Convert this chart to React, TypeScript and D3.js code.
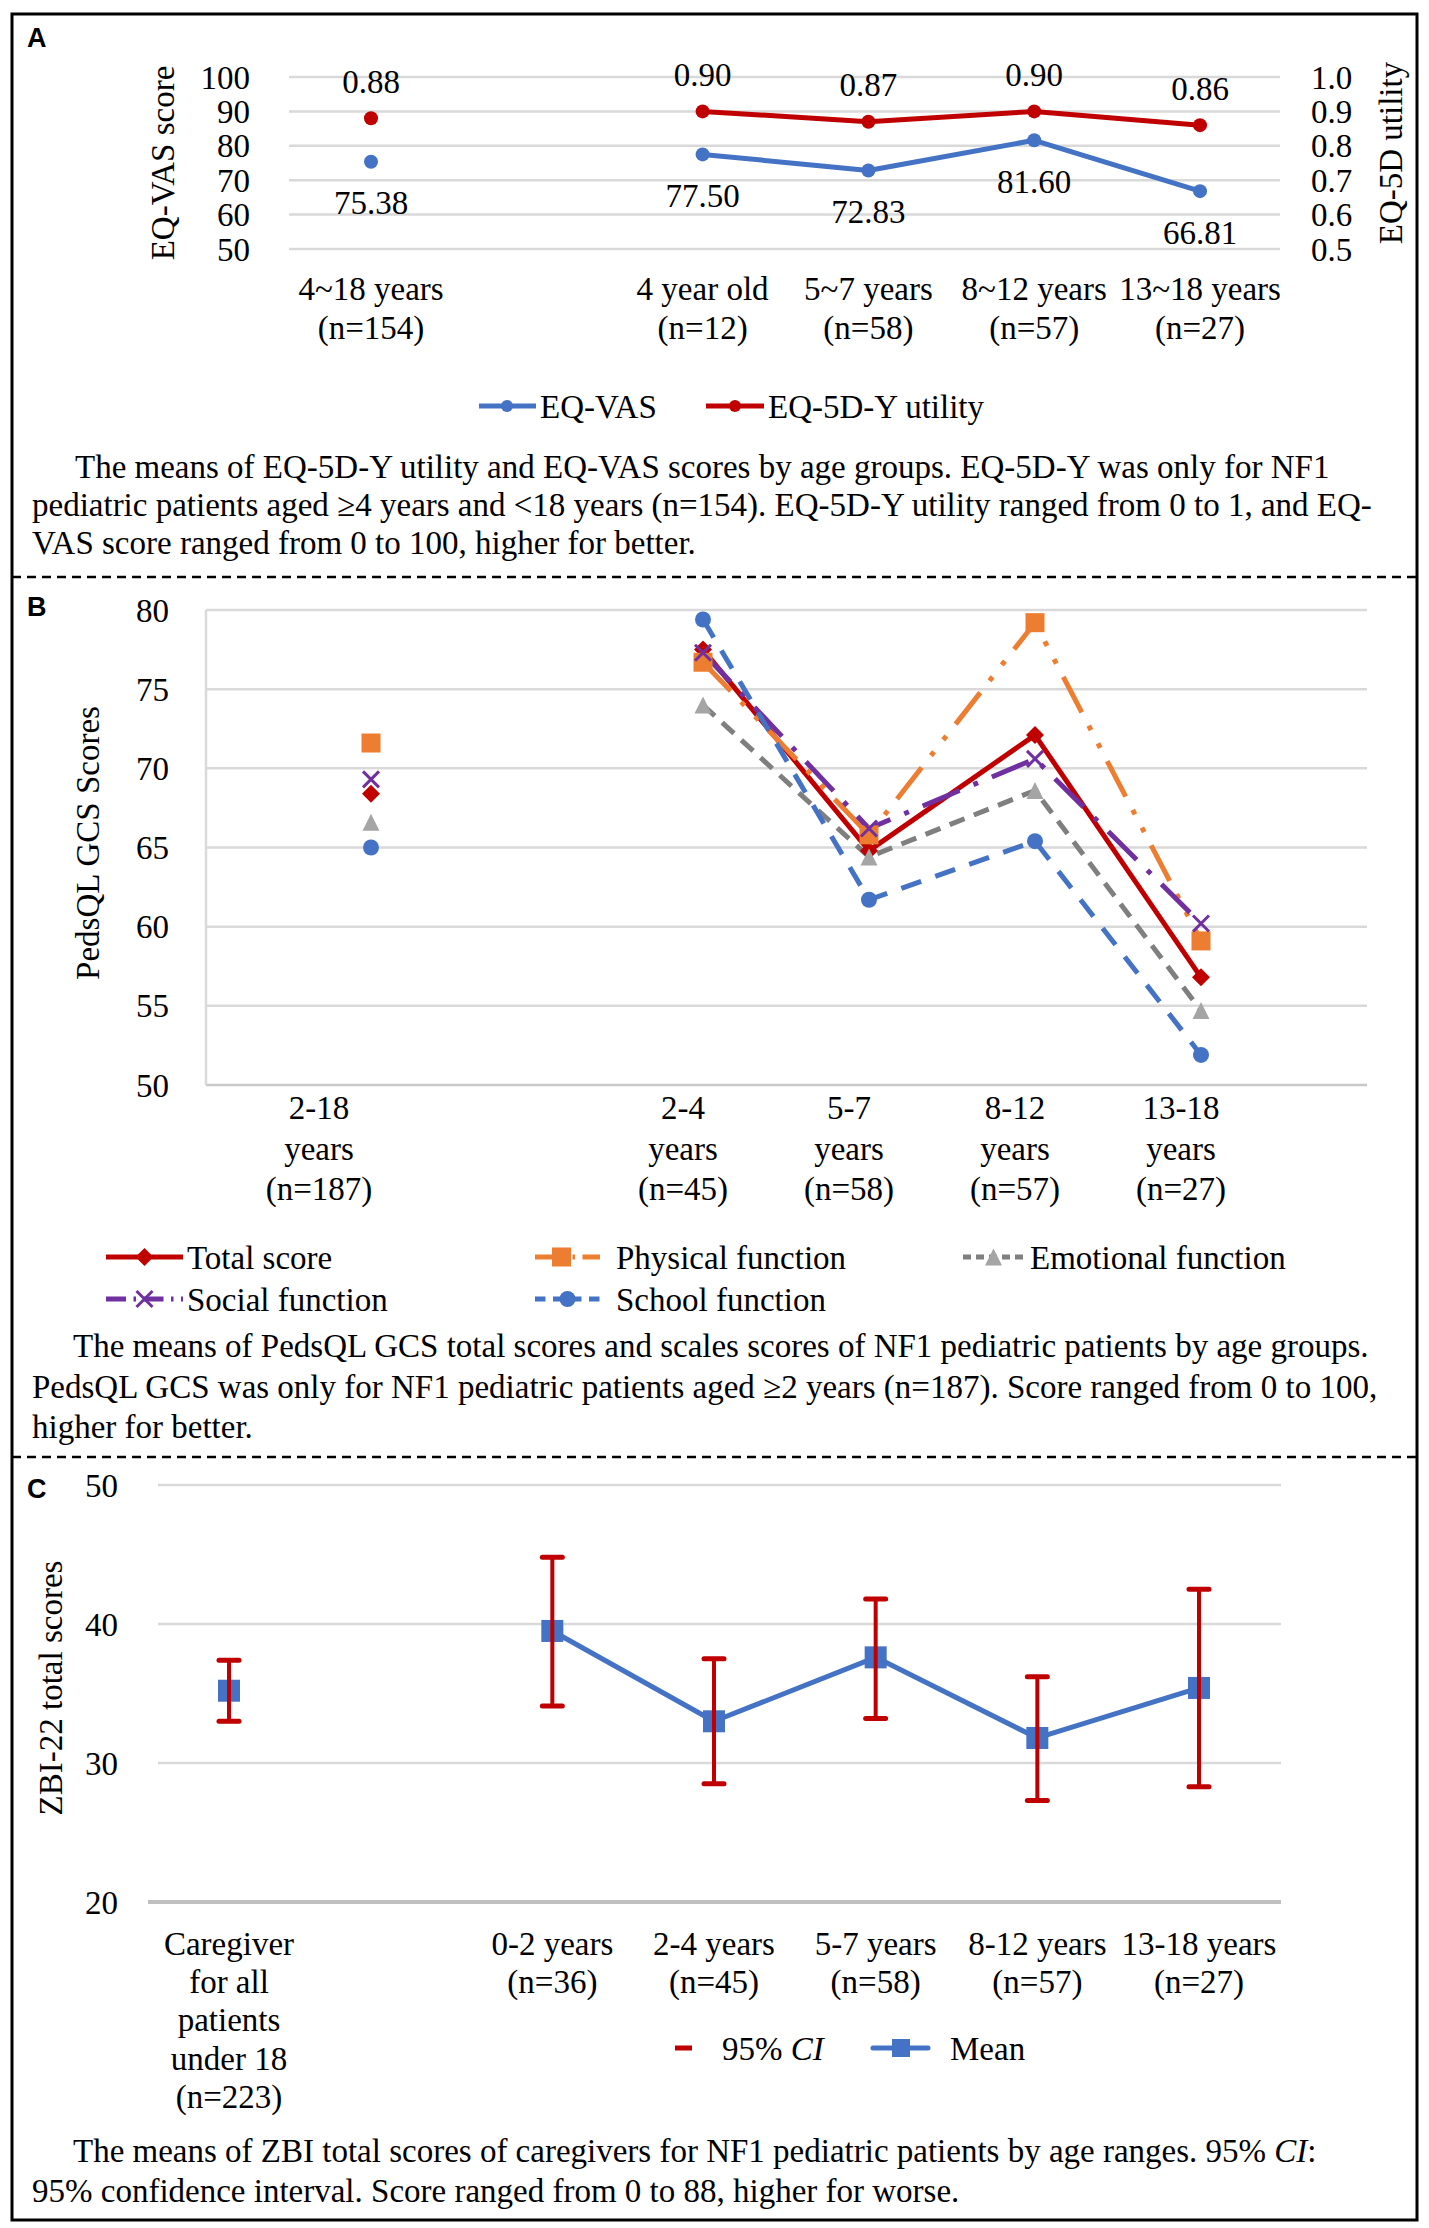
import * as d3 from 'd3';

const FONT = "'Liberation Serif', 'Times New Roman', serif";
const SANS = "'Liberation Sans', Arial, sans-serif";
const FS = 33;
const GAP = ' ';

// Panel A: EQ-VAS and EQ-5D-Y utility by age group
const aCats = ['4~18 years', '4 year old', '5~7 years', '8~12 years', '13~18 years'];
const aN = ['(n=154)', '(n=12)', '(n=58)', '(n=57)', '(n=27)'];
const eqVas = [75.38, 77.5, 72.83, 81.6, 66.81];
const eqUtility = [0.88, 0.9, 0.87, 0.9, 0.86];
const aTicks = [50, 60, 70, 80, 90, 100];
const aTicksRight = [0.5, 0.6, 0.7, 0.8, 0.9, 1.0];

// Panel B: PedsQL GCS scores
const bCats = ['2-18', '2-4', '5-7', '8-12', '13-18'];
const bN = ['(n=187)', '(n=45)', '(n=58)', '(n=57)', '(n=27)'];
const totalScore = [68.4, 77.5, 64.8, 72.1, 56.8];
const physicalFn = [71.6, 76.7, 65.8, 79.2, 59.1];
const emotionalFn = [66.6, 74.0, 64.4, 68.6, 54.7];
const socialFn = [69.3, 77.3, 66.2, 70.6, 60.2];
const schoolFn = [65.0, 79.4, 61.7, 65.4, 51.9];
const bTicks = [50, 55, 60, 65, 70, 75, 80];

// Panel C: ZBI-22 totals of caregivers
const cCats = ['Caregiver for all patients under 18', '0-2 years', '2-4 years', '5-7 years', '8-12 years', '13-18 years'];
const cLabels = [
  ['Caregiver', 'for all', 'patients', 'under 18', '(n=223)'],
  ['0-2 years', '(n=36)'],
  ['2-4 years', '(n=45)'],
  ['5-7 years', '(n=58)'],
  ['8-12 years', '(n=57)'],
  ['13-18 years', '(n=27)'],
];
const zbiMean = [35.2, 39.5, 33.0, 37.6, 31.8, 35.4];
const ciLow = [33.0, 34.1, 28.5, 33.2, 27.3, 28.3];
const ciHigh = [37.4, 44.8, 37.5, 41.8, 36.2, 42.5];
const cTicks = [20, 30, 40, 50];

const BLUE = '#4472C4';
const RED = '#C00000';
const GRID = '#D9D9D9';

type Seg = { t: string; i?: boolean };
const captionA: Seg[][] = [
  [{ t: 'The means of EQ-5D-Y utility and EQ-VAS scores by age groups. EQ-5D-Y was only for NF1' }],
  [{ t: 'pediatric patients aged \u22654 years and <18 years (n=154). EQ-5D-Y utility ranged from 0 to 1, and EQ-' }],
  [{ t: 'VAS score ranged from 0 to 100, higher for better.' }],
];
const captionB: Seg[][] = [
  [{ t: 'The means of PedsQL GCS total scores and scales scores of NF1 pediatric patients by age groups.' }],
  [{ t: 'PedsQL GCS was only for NF1 pediatric patients aged \u22652 years (n=187). Score ranged from 0 to 100,' }],
  [{ t: 'higher for better.' }],
];
const captionC: Seg[][] = [
  [{ t: 'The means of ZBI total scores of caregivers for NF1 pediatric patients by age ranges. 95% ' }, { t: 'CI', i: true }, { t: ':' }],
  [{ t: '95% confidence interval. Score ranged from 0 to 88, higher for worse.' }],
];

function Marker({ type, x, y, color, s }: { type: string; x: number; y: number; color: string; s: number }) {
  if (type === 'circle') return <circle cx={x} cy={y} r={s / 2} fill={color} />;
  if (type === 'square') return <rect x={x - s / 2} y={y - s / 2} width={s} height={s} fill={color} />;
  if (type === 'diamond') {
    const h = s / 2;
    return <path d={`M${x},${y - h}L${x + h},${y}L${x},${y + h}L${x - h},${y}Z`} fill={color} />;
  }
  if (type === 'triangle') {
    const h = s / 2;
    return <path d={`M${x},${y - h}L${x + h},${y + h}L${x - h},${y + h}Z`} fill={color} />;
  }
  const h = s / 2;
  return (
    <path d={`M${x - h},${y - h}L${x + h},${y + h}M${x + h},${y - h}L${x - h},${y + h}`} stroke={color} strokeWidth={3} fill="none" />
  );
}

function Caption({ lines, x0, x1, y0, lh }: { lines: Seg[][]; x0: number; x1: number; y0: number; lh: number }) {
  return (
    <g fontFamily={FONT} fontSize={FS} fill="#000">
      {lines.map((segs, li) => (
        <text key={li} x={li === 0 ? x0 : x1} y={y0 + li * lh}>
          {segs.map((s, si) => (
            <tspan key={si} fontStyle={s.i ? 'italic' : 'normal'}>{s.t}</tspan>
          ))}
        </text>
      ))}
    </g>
  );
}

export default function App() {
  const W = 1429;
  const H = 2228;

  // ---------- A ----------
  const xA = d3.scalePoint<string>().domain([aCats[0], GAP, ...aCats.slice(1)]).range([371, 1200]);
  const yA = d3.scaleLinear().domain([50, 100]).range([249, 77]);
  const yA2 = d3.scaleLinear().domain([0.5, 1.0]).range([249, 77]);
  const f2 = d3.format('.2f');
  const lineVas = d3.line<number>().x((_, i) => xA(aCats[i + 1])!).y((d) => yA(d));
  const lineUtil = d3.line<number>().x((_, i) => xA(aCats[i + 1])!).y((d) => yA2(d));

  // ---------- B ----------
  const xB = d3.scalePoint<string>().domain([bCats[0], GAP, ...bCats.slice(1)]).range([371, 1201]);
  const yB = d3.scaleLinear().domain([50, 80]).range([1085, 610]);
  const bSeries = [
    { name: 'Total score', values: totalScore, color: RED, mColor: RED, dash: undefined, marker: 'diamond', ms: 18, leg: [106, 183, 187] },
    { name: 'Physical function', values: physicalFn, color: '#ED7D31', mColor: '#ED7D31', dash: '40 15 5 15 5 15', marker: 'square', ms: 19, leg: [535, 600, 616] },
    { name: 'Emotional function', values: emotionalFn, color: '#7F7F7F', mColor: '#A5A5A5', dash: '16 10', marker: 'triangle', ms: 17, leg: [963, 1024, 1030] },
    { name: 'Social function', values: socialFn, color: '#7030A0', mColor: '#7030A0', dash: '40 15 5 15', marker: 'x', ms: 16, leg: [106, 183, 187] },
    { name: 'School function', values: schoolFn, color: BLUE, mColor: BLUE, dash: '21 15', marker: 'circle', ms: 16, leg: [535, 600, 616] },
  ];
  const lineB = (vals: number[]) =>
    d3.line<number>().x((_, i) => xB(bCats[i + 1])!).y((d) => yB(d))(vals.slice(1))!;

  // ---------- C ----------
  const xC = d3.scalePoint<string>().domain([cCats[0], GAP, ...cCats.slice(1)]).range([229, 1199]);
  const yC = d3.scaleLinear().domain([20, 50]).range([1902, 1485]);
  const lineC = d3.line<number>().x((_, i) => xC(cCats[i + 1])!).y((d) => yC(d));

  return (
    <div style={{ position: 'absolute', left: 0, top: 0 }}>
      <svg width={W} height={H} viewBox={`0 0 ${W} ${H}`} style={{ display: 'block', background: '#fff' }}>
        <rect x={0} y={0} width={W} height={H} fill="#fff" />
        {/* frame */}
        <rect x={12} y={14} width={1405} height={2206} fill="none" stroke="#000" strokeWidth={3} />
        <line x1={12} x2={1417} y1={577} y2={577} stroke="#000" strokeWidth={2.5} strokeDasharray="9 6" />
        <line x1={12} x2={1417} y1={1457} y2={1457} stroke="#000" strokeWidth={2.5} strokeDasharray="9 6" />

        {/* ================= A ================= */}
        <text x={27} y={47} fontFamily={SANS} fontWeight="bold" fontSize={27}>A</text>
        {aTicks.map((t) => (
          <g key={t}>
            <line x1={289} x2={1280} y1={yA(t)} y2={yA(t)} stroke={GRID} strokeWidth={2.5} />
            <text x={250} y={yA(t)} dy="0.35em" textAnchor="end" fontFamily={FONT} fontSize={FS}>{t}</text>
          </g>
        ))}
        {aTicksRight.map((t) => (
          <text key={t} x={1311} y={yA2(t)} dy="0.35em" fontFamily={FONT} fontSize={FS}>{d3.format('.1f')(t)}</text>
        ))}
        <text transform="translate(162,163) rotate(-90)" textAnchor="middle" dy="0.35em" fontFamily={FONT} fontSize={FS}>EQ-VAS score</text>
        <text transform="translate(1390,153) rotate(-90)" textAnchor="middle" dy="0.35em" fontFamily={FONT} fontSize={FS}>EQ-5D utility</text>
        <path d={lineVas(eqVas.slice(1))!} fill="none" stroke={BLUE} strokeWidth={5} strokeLinejoin="round" />
        <path d={lineUtil(eqUtility.slice(1))!} fill="none" stroke={RED} strokeWidth={5} strokeLinejoin="round" />
        {aCats.map((c, i) => (
          <g key={c} fontFamily={FONT} fontSize={FS} textAnchor="middle">
            <circle cx={xA(c)} cy={yA(eqVas[i])} r={7} fill={BLUE} />
            <circle cx={xA(c)} cy={yA2(eqUtility[i])} r={7} fill={RED} />
            <text x={xA(c)} y={yA2(eqUtility[i]) - 37} dy="0.35em">{f2(eqUtility[i])}</text>
            <text x={xA(c)} y={yA(eqVas[i]) + 41} dy="0.35em">{f2(eqVas[i])}</text>
            <text x={xA(c)} y={300}>{c}</text>
            <text x={xA(c)} y={339}>{aN[i]}</text>
          </g>
        ))}
        {/* legend A */}
        <g fontFamily={FONT} fontSize={FS}>
          <line x1={479} x2={536} y1={406} y2={406} stroke={BLUE} strokeWidth={5} />
          <circle cx={507} cy={406} r={6} fill={BLUE} />
          <text x={540} y={406} dy="0.35em">EQ-VAS</text>
          <line x1={706} x2={764} y1={406} y2={406} stroke={RED} strokeWidth={5} />
          <circle cx={735} cy={406} r={6} fill={RED} />
          <text x={768} y={406} dy="0.35em">EQ-5D-Y utility</text>
        </g>
        <Caption lines={captionA} x0={75} x1={32} y0={478} lh={38} />

        {/* ================= B ================= */}
        <text x={27} y={616} fontFamily={SANS} fontWeight="bold" fontSize={27}>B</text>
        {bTicks.map((t) => (
          <g key={t}>
            <line x1={206} x2={1367} y1={yB(t)} y2={yB(t)} stroke={t === 50 ? '#C8C8C8' : GRID} strokeWidth={2.5} />
            <text x={169} y={yB(t)} dy="0.35em" textAnchor="end" fontFamily={FONT} fontSize={FS}>{t}</text>
          </g>
        ))}
        <line x1={206} x2={206} y1={yB(80)} y2={yB(50)} stroke={GRID} strokeWidth={2.5} />
        <text transform="translate(87,843) rotate(-90)" textAnchor="middle" dy="0.35em" fontFamily={FONT} fontSize={FS}>PedsQL GCS Scores</text>
        {bSeries.map((s) => (
          <path key={s.name} d={lineB(s.values)} fill="none" stroke={s.color} strokeWidth={5} strokeDasharray={s.dash} strokeLinejoin="round" />
        ))}
        {bSeries.map((s) => (
          <g key={s.name + 'm'}>
            {bCats.map((c, i) => (
              <Marker key={c} type={s.marker} x={xB(c)!} y={yB(s.values[i])} color={s.mColor} s={s.ms} />
            ))}
          </g>
        ))}
        {bCats.map((c, i) => (
          <g key={c} fontFamily={FONT} fontSize={FS} textAnchor="middle">
            <text x={xB(c)! - (i === 0 ? 52 : 20)} y={1119}>{c}</text>
            <text x={xB(c)! - (i === 0 ? 52 : 20)} y={1160}>years</text>
            <text x={xB(c)! - (i === 0 ? 52 : 20)} y={1200}>{bN[i]}</text>
          </g>
        ))}
        {/* legend B */}
        {bSeries.map((s, i) => {
          const ly = i < 3 ? 1257 : 1299;
          const [x0, x1, tx] = s.leg;
          return (
            <g key={s.name + 'l'}>
              <line x1={x0} x2={x1} y1={ly} y2={ly} stroke={s.color} strokeWidth={5} strokeDasharray={s.dash ? s.dash.split(' ').map((v) => +v * 0.5).join(' ') : undefined} />
              <Marker type={s.marker} x={(x0 + x1) / 2 + (s.marker === 'square' ? -6 : 0)} y={ly} color={s.mColor} s={s.ms} />
              <text x={tx} y={ly} dy="0.35em" fontFamily={FONT} fontSize={FS}>{s.name}</text>
            </g>
          );
        })}
        <Caption lines={captionB} x0={73} x1={32} y0={1357} lh={40.5} />

        {/* ================= C ================= */}
        <text x={27} y={1498} fontFamily={SANS} fontWeight="bold" fontSize={27}>C</text>
        {cTicks.map((t) => (
          <g key={t}>
            {t === 20 ? (
              <line x1={148} x2={1281} y1={yC(t)} y2={yC(t)} stroke="#BFBFBF" strokeWidth={4} />
            ) : (
              <line x1={158} x2={1281} y1={yC(t)} y2={yC(t)} stroke={GRID} strokeWidth={2.5} />
            )}
            <text x={118} y={yC(t)} dy="0.35em" textAnchor="end" fontFamily={FONT} fontSize={FS}>{t}</text>
          </g>
        ))}
        <text transform="translate(50,1688) rotate(-90)" textAnchor="middle" dy="0.35em" fontFamily={FONT} fontSize={FS}>ZBI-22 total scores</text>
        <path d={lineC(zbiMean.slice(1))!} fill="none" stroke={BLUE} strokeWidth={5} strokeLinejoin="round" />
        {cCats.map((c, i) => (
          <g key={c}>
            <rect x={xC(c)! - 11} y={yC(zbiMean[i]) - 11} width={22} height={22} fill={BLUE} />
            <line x1={xC(c)} x2={xC(c)} y1={yC(ciLow[i])} y2={yC(ciHigh[i])} stroke={RED} strokeWidth={4} />
            <line x1={xC(c)! - 10} x2={xC(c)! + 10} y1={yC(ciLow[i])} y2={yC(ciLow[i])} stroke={RED} strokeWidth={5} strokeLinecap="round" />
            <line x1={xC(c)! - 10} x2={xC(c)! + 10} y1={yC(ciHigh[i])} y2={yC(ciHigh[i])} stroke={RED} strokeWidth={5} strokeLinecap="round" />
            {cLabels[i].map((l, li) => (
              <text key={li} x={xC(c)} y={1955 + li * 38.2} textAnchor="middle" fontFamily={FONT} fontSize={FS}>{l}</text>
            ))}
          </g>
        ))}
        {/* legend C */}
        <g fontFamily={FONT} fontSize={FS}>
          <line x1={675} x2={692} y1={2048} y2={2048} stroke={RED} strokeWidth={5} />
          <text x={722} y={2048} dy="0.35em">95% <tspan fontStyle="italic">CI</tspan></text>
          <line x1={873} x2={928} y1={2048} y2={2048} stroke={BLUE} strokeWidth={5} strokeLinecap="round" />
          <rect x={892} y={2039} width={18} height={18} fill={BLUE} />
          <text x={950} y={2048} dy="0.35em">Mean</text>
        </g>
        <Caption lines={captionC} x0={73} x1={32} y0={2162} lh={40} />
      </svg>
    </div>
  );
}
